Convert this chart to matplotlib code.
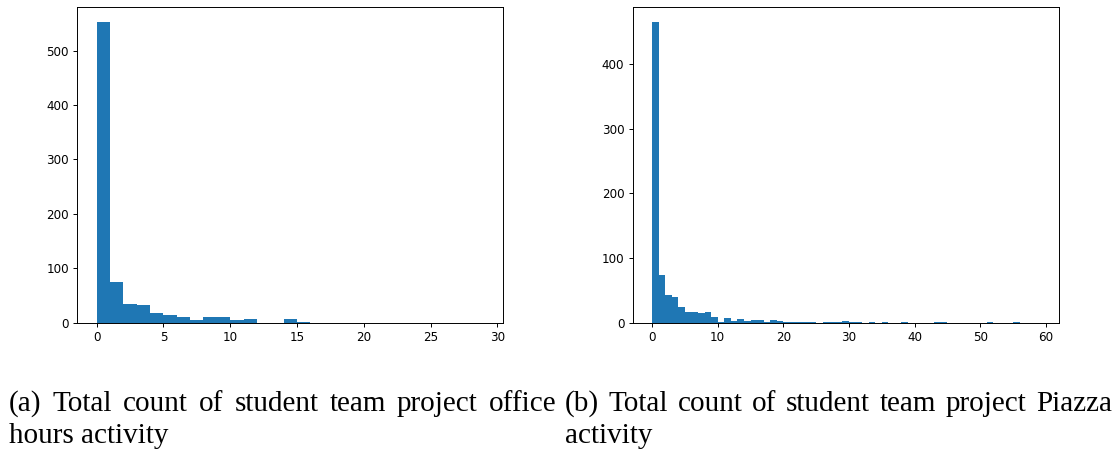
import numpy as np
import matplotlib
matplotlib.use("Agg")
import matplotlib.pyplot as plt

# Per-team totals, one unit-wide histogram bin per count value (bin i covers [i, i+1))
office_hours_counts = [553, 74, 34, 32, 18, 15, 10, 5, 10, 10,
                       5, 7, 0, 0, 7, 2, 0, 0, 0, 0,
                       0, 0, 0, 0, 0, 0, 0, 0, 0]
piazza_counts = [465, 74, 43, 39, 24, 16, 16, 15, 16, 9,
                 1, 8, 3, 5, 3, 4, 4, 1, 4, 2,
                 1, 1, 1, 1, 1, 0, 1, 1, 1, 3,
                 1, 1, 0, 1, 0, 1, 0, 0, 1, 0,
                 0, 0, 0, 1, 1, 0, 0, 0, 0, 0,
                 0, 1, 0, 0, 0, 1, 0, 0, 0]

caption_a = ["(a) Total count of student team project office", "hours activity"]
caption_b = ["(b) Total count of student team project Piazza", "activity"]

W, H = 1117, 450
fig = plt.figure(figsize=(W / 100, H / 100), dpi=100)


def draw_hist(rect, counts, xticks, yticks):
    ax = fig.add_axes(rect)
    n = len(counts)
    edges = np.arange(n + 1)
    ax.hist(np.arange(n) + 0.5, bins=edges, weights=counts, color="#1f77b4")
    ax.set_xticks(xticks)
    ax.set_yticks(yticks)
    ax.tick_params(labelsize=8.6, length=3, width=0.7, pad=3)
    for s in ax.spines.values():
        s.set_linewidth(0.7)
    return ax


ax_w, ax_h = 426 / W, 316 / H
ax_y = (H - 322.7) / H
draw_hist([77.3 / W, ax_y, ax_w, ax_h], office_hours_counts,
          range(0, 31, 5), range(0, 501, 100))
draw_hist([632.7 / W, ax_y, ax_w, ax_h], piazza_counts,
          range(0, 61, 10), range(0, 401, 100))

cap_font = dict(family="Liberation Serif", size=21, va="baseline", ha="left")


def place_line(text, x0, y, x1=None):
    """Write one caption line; when x1 is given, justify between x0 and x1 (pixels)."""
    words = text.split()
    if x1 is None:
        fig.text(x0 / W, (H - y) / H, text, **cap_font)
        return
    items = [fig.text(0, (H - y) / H, w, **cap_font) for w in words]
    fig.canvas.draw()
    r = fig.canvas.get_renderer()
    widths = [t.get_window_extent(r).width for t in items]
    gap = (x1 - x0 - sum(widths)) / (len(words) - 1)
    x = x0
    for t, w in zip(items, widths):
        t.set_x(x / W)
        x += w + gap


place_line(caption_a[0], 9, 411, 556)
place_line(caption_a[1], 9, 443)
place_line(caption_b[0], 565, 411, 1112)
place_line(caption_b[1], 565, 443)

fig.savefig("out.png", dpi=100)
